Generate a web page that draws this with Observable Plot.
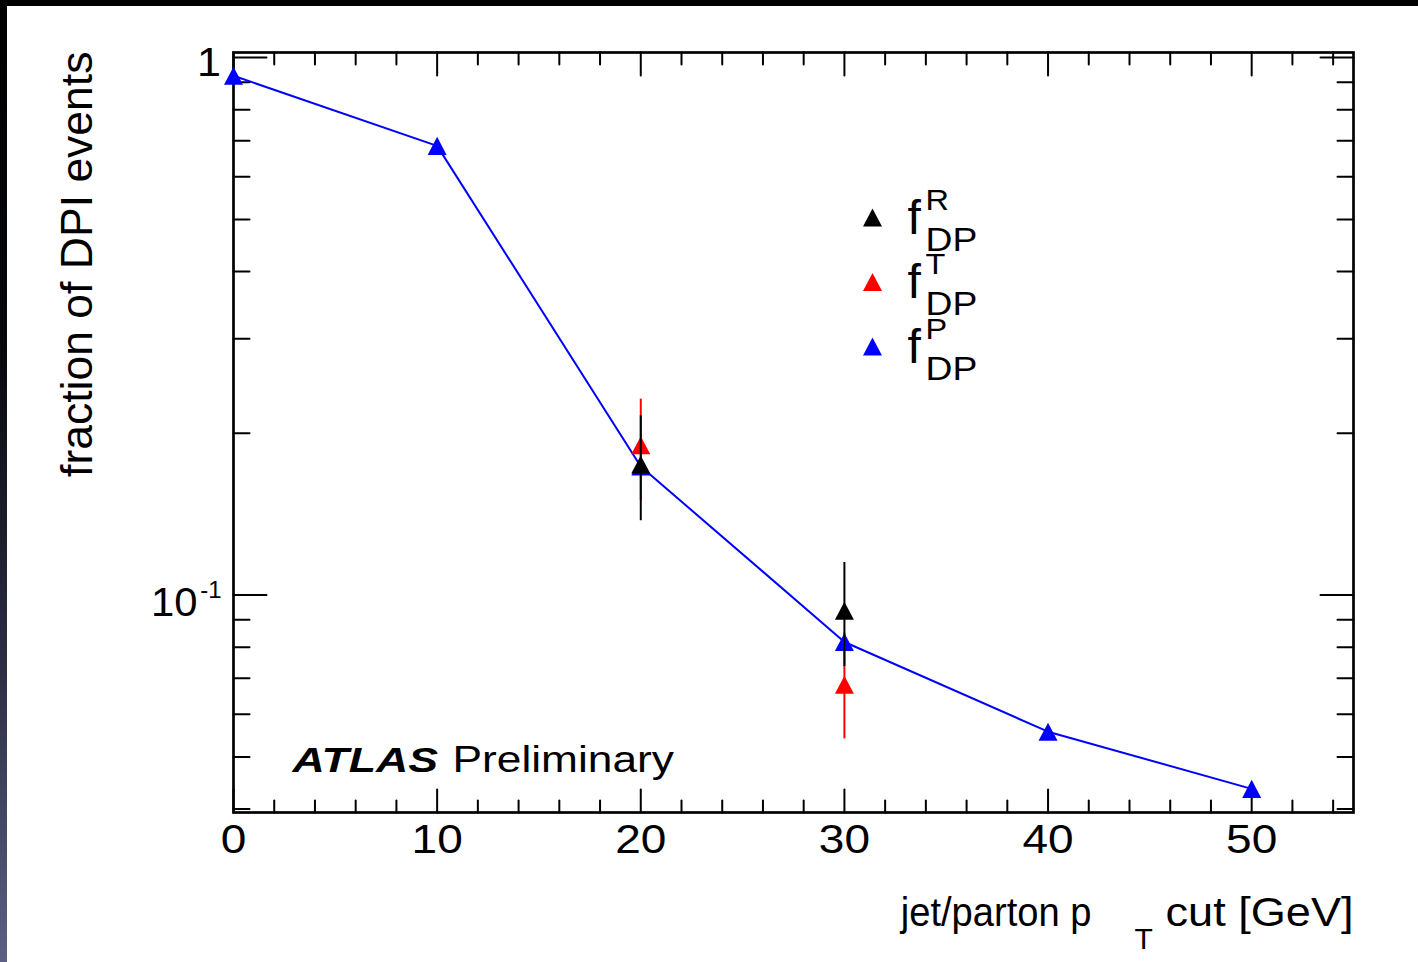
<!DOCTYPE html>
<html><head><meta charset="utf-8">
<script src="https://cdn.jsdelivr.net/npm/d3@7"></script>
<script src="https://cdn.jsdelivr.net/npm/@observablehq/plot@0.6"></script>
<style>
html,body{margin:0;padding:0;background:#fff;}
#wrap{position:relative;width:1418px;height:962px;overflow:hidden;background:linear-gradient(to bottom,#000 0%,#06070c 35%,#2c2f44 70%,#5c6082 100%);}
#chart{position:absolute;left:7px;top:6px;width:1411px;height:956px;background:#fff;}
</style></head><body>
<div id="wrap"><div id="chart"></div></div>
<script>
// ---- data ----
const ptCut = [0, 10, 20, 30, 40, 50];
const fP = [0.925, 0.685, 0.1735, 0.0818, 0.0557, 0.0436];
const cutRT = [20, 30];
const fR = [0.175, 0.0935];
const fRLow = [0.1375, 0.0736];
const fRHigh = [0.2156, 0.1150];
const fT = [0.190, 0.0681];
const fTLow = [0.150, 0.0540];
const fTHigh = [0.2315, 0.0850];
// ---- ticks / labels ----
const xMajor = [0, 10, 20, 30, 40, 50];
const xMinor = [2,4,6,8,12,14,16,18,22,24,26,28,32,34,36,38,42,44,46,48,52,54];
const yMajor = [0.1, 1];
const yMinor = [0.04,0.05,0.06,0.07,0.08,0.09,0.2,0.3,0.4,0.5,0.6,0.7,0.8,0.9];
const xTickLabels = ["0", "10", "20", "30", "40", "50"];
const legendSup = ["R", "T", "P"];
const legendColors = ["black", "red", "blue"];

const pData = ptCut.map((x, i) => ({x, y: fP[i]}));
const rData = cutRT.map((x, i) => ({x, y: fR[i], lo: fRLow[i], hi: fRHigh[i]}));
const tData = cutRT.map((x, i) => ({x, y: fT[i], lo: fTLow[i], hi: fTHigh[i]}));

const tri = {draw(ctx, size) { const r = Math.sqrt(size / Math.PI); ctx.moveTo(0, -0.95 * r); ctx.lineTo(r, 0.95 * r); ctx.lineTo(-r, 0.95 * r); ctx.closePath(); }};
const tickShape = {draw(ctx, l) { ctx.moveTo(0, 0); ctx.lineTo(0, -l); }};
const RED = "#ff0000", BLUE = "#0000ff";
const MR = 9.5;

function ticks(vals, k, anchor, rotate, length) {
  const o = {frameAnchor: anchor, rotate, length, anchor: "start", shape: tickShape, stroke: "black", strokeWidth: 2};
  o[k] = d => d;
  return Plot.vector(vals, o);
}

const legendMarks = legendSup.flatMap((s, i) => {
  const off = 64.5 * i;
  return [
    Plot.dot([0], {frameAnchor: "top-left", dx: 639, dy: 165 + off, symbol: tri, r: MR, fill: legendColors[i]}),
    Plot.text(["f"], {frameAnchor: "top-left", text: d => d, dx: 674, dy: 181 + off, textAnchor: "start", lineAnchor: "bottom", fontSize: 48}),
    Plot.text([s], {frameAnchor: "top-left", text: d => d, dx: 692, dy: 157 + off, textAnchor: "start", lineAnchor: "bottom", fontSize: 29, ariaDescription: "stretch-1.12"}),
    Plot.text(["DP"], {frameAnchor: "top-left", text: d => d, dx: 692, dy: 198 + off, textAnchor: "start", lineAnchor: "bottom", fontSize: 33, ariaDescription: "stretch-1.13"})
  ];
});

const chart = Plot.plot({
  width: 1411, height: 956,
  marginLeft: 226, marginTop: 46, marginRight: 65, marginBottom: 150,
  x: {domain: [0, 55], axis: null},
  y: {type: "log", domain: [0.0394, 1.022], axis: null},
  style: {background: "white", color: "black", fontFamily: "'Liberation Sans', Arial, Helvetica, sans-serif"},
  marks: [
    Plot.frame({stroke: "black", strokeWidth: 2.7}),
    ticks(yMajor, "y", "left", 90, 33),
    ticks(yMinor, "y", "left", 90, 16),
    ticks(yMajor, "y", "right", -90, 33),
    ticks(yMinor, "y", "right", -90, 16),
    ticks(xMajor, "x", "bottom", 0, 23),
    ticks(xMinor, "x", "bottom", 0, 12),
    ticks(xMajor, "x", "top", 180, 23),
    ticks(xMinor, "x", "top", 180, 12),
    Plot.line(pData, {x: "x", y: "y", stroke: BLUE, strokeWidth: 2}),
    Plot.dot(pData, {x: "x", y: "y", symbol: tri, r: MR, fill: BLUE}),
    Plot.ruleX(tData, {x: "x", y1: "lo", y2: "hi", stroke: RED, strokeWidth: 2}),
    Plot.dot(tData, {x: "x", y: "y", symbol: tri, r: MR, fill: RED}),
    Plot.ruleX(rData, {x: "x", y1: "lo", y2: "hi", stroke: "black", strokeWidth: 2}),
    Plot.dot(rData, {x: "x", y: "y", symbol: tri, r: MR, fill: "black"}),
    // x tick labels
    Plot.text(xMajor, {x: d => d, text: xTickLabels, frameAnchor: "bottom", dy: 40, lineAnchor: "bottom", textAnchor: "middle", fontSize: 40, ariaDescription: "stretch-1.15"}),
    // y tick labels
    Plot.text([1], {y: d => d, text: ["1"], frameAnchor: "left", dx: -12.5, dy: 18.5, textAnchor: "end", lineAnchor: "bottom", fontSize: 41, ariaDescription: "stretch-1.05"}),
    Plot.text([0.1], {y: d => d, text: ["10"], frameAnchor: "left", dx: -36, dy: 20.7, textAnchor: "end", lineAnchor: "bottom", fontSize: 41, ariaDescription: "stretch-1.02"}),
    Plot.text([0.1], {y: d => d, text: ["-1"], frameAnchor: "left", dx: -12, dy: 2.7, textAnchor: "end", lineAnchor: "bottom", fontSize: 24}),
    // axis titles
    Plot.text(["fraction of DPI events"], {frameAnchor: "top-left", text: d => d, rotate: -90, textAnchor: "end", lineAnchor: "bottom", dx: -142, dy: -1, fontSize: 44.5}),
    Plot.text(["jet/parton p"], {frameAnchor: "bottom-right", text: d => d, textAnchor: "end", lineAnchor: "bottom", dx: -262, dy: 113, fontSize: 41, ariaDescription: "stretch-0.93"}),
    Plot.text(["T"], {frameAnchor: "bottom-right", text: d => d, textAnchor: "start", lineAnchor: "bottom", dx: -219, dy: 136, fontSize: 30}),
    Plot.text(["cut [GeV]"], {frameAnchor: "bottom-right", text: d => d, textAnchor: "end", lineAnchor: "bottom", dx: 0, dy: 113, fontSize: 41, ariaDescription: "stretch-1.1"}),
    // ATLAS label
    Plot.text(["ATLAS"], {frameAnchor: "bottom-left", text: d => d, textAnchor: "start", lineAnchor: "bottom", dx: 59, dy: -41, fontSize: 36, fontWeight: "bold", fontStyle: "italic", ariaDescription: "stretch-1.24"}),
    Plot.text(["Preliminary"], {frameAnchor: "bottom-left", text: d => d, textAnchor: "start", lineAnchor: "bottom", dx: 219, dy: -41, fontSize: 36, ariaDescription: "stretch-1.23"}),
    ...legendMarks
  ]
});

// horizontal stretch of selected labels (the reference glyphs are wider than Helvetica/Arial)
chart.querySelectorAll('g[aria-description^="stretch-"]').forEach(g => {
  const sx = +g.getAttribute("aria-description").slice(8);
  g.querySelectorAll("text").forEach(t => {
    const x = +(t.getAttribute("x") || 0), y = +(t.getAttribute("y") || 0);
    const T = t.getAttribute("transform") || "";
    t.setAttribute("transform", `${T} translate(${x},${y}) scale(${sx},1) translate(${-x},${-y})`);
  });
});

document.getElementById("chart").appendChild(chart);
</script>
</body></html>
